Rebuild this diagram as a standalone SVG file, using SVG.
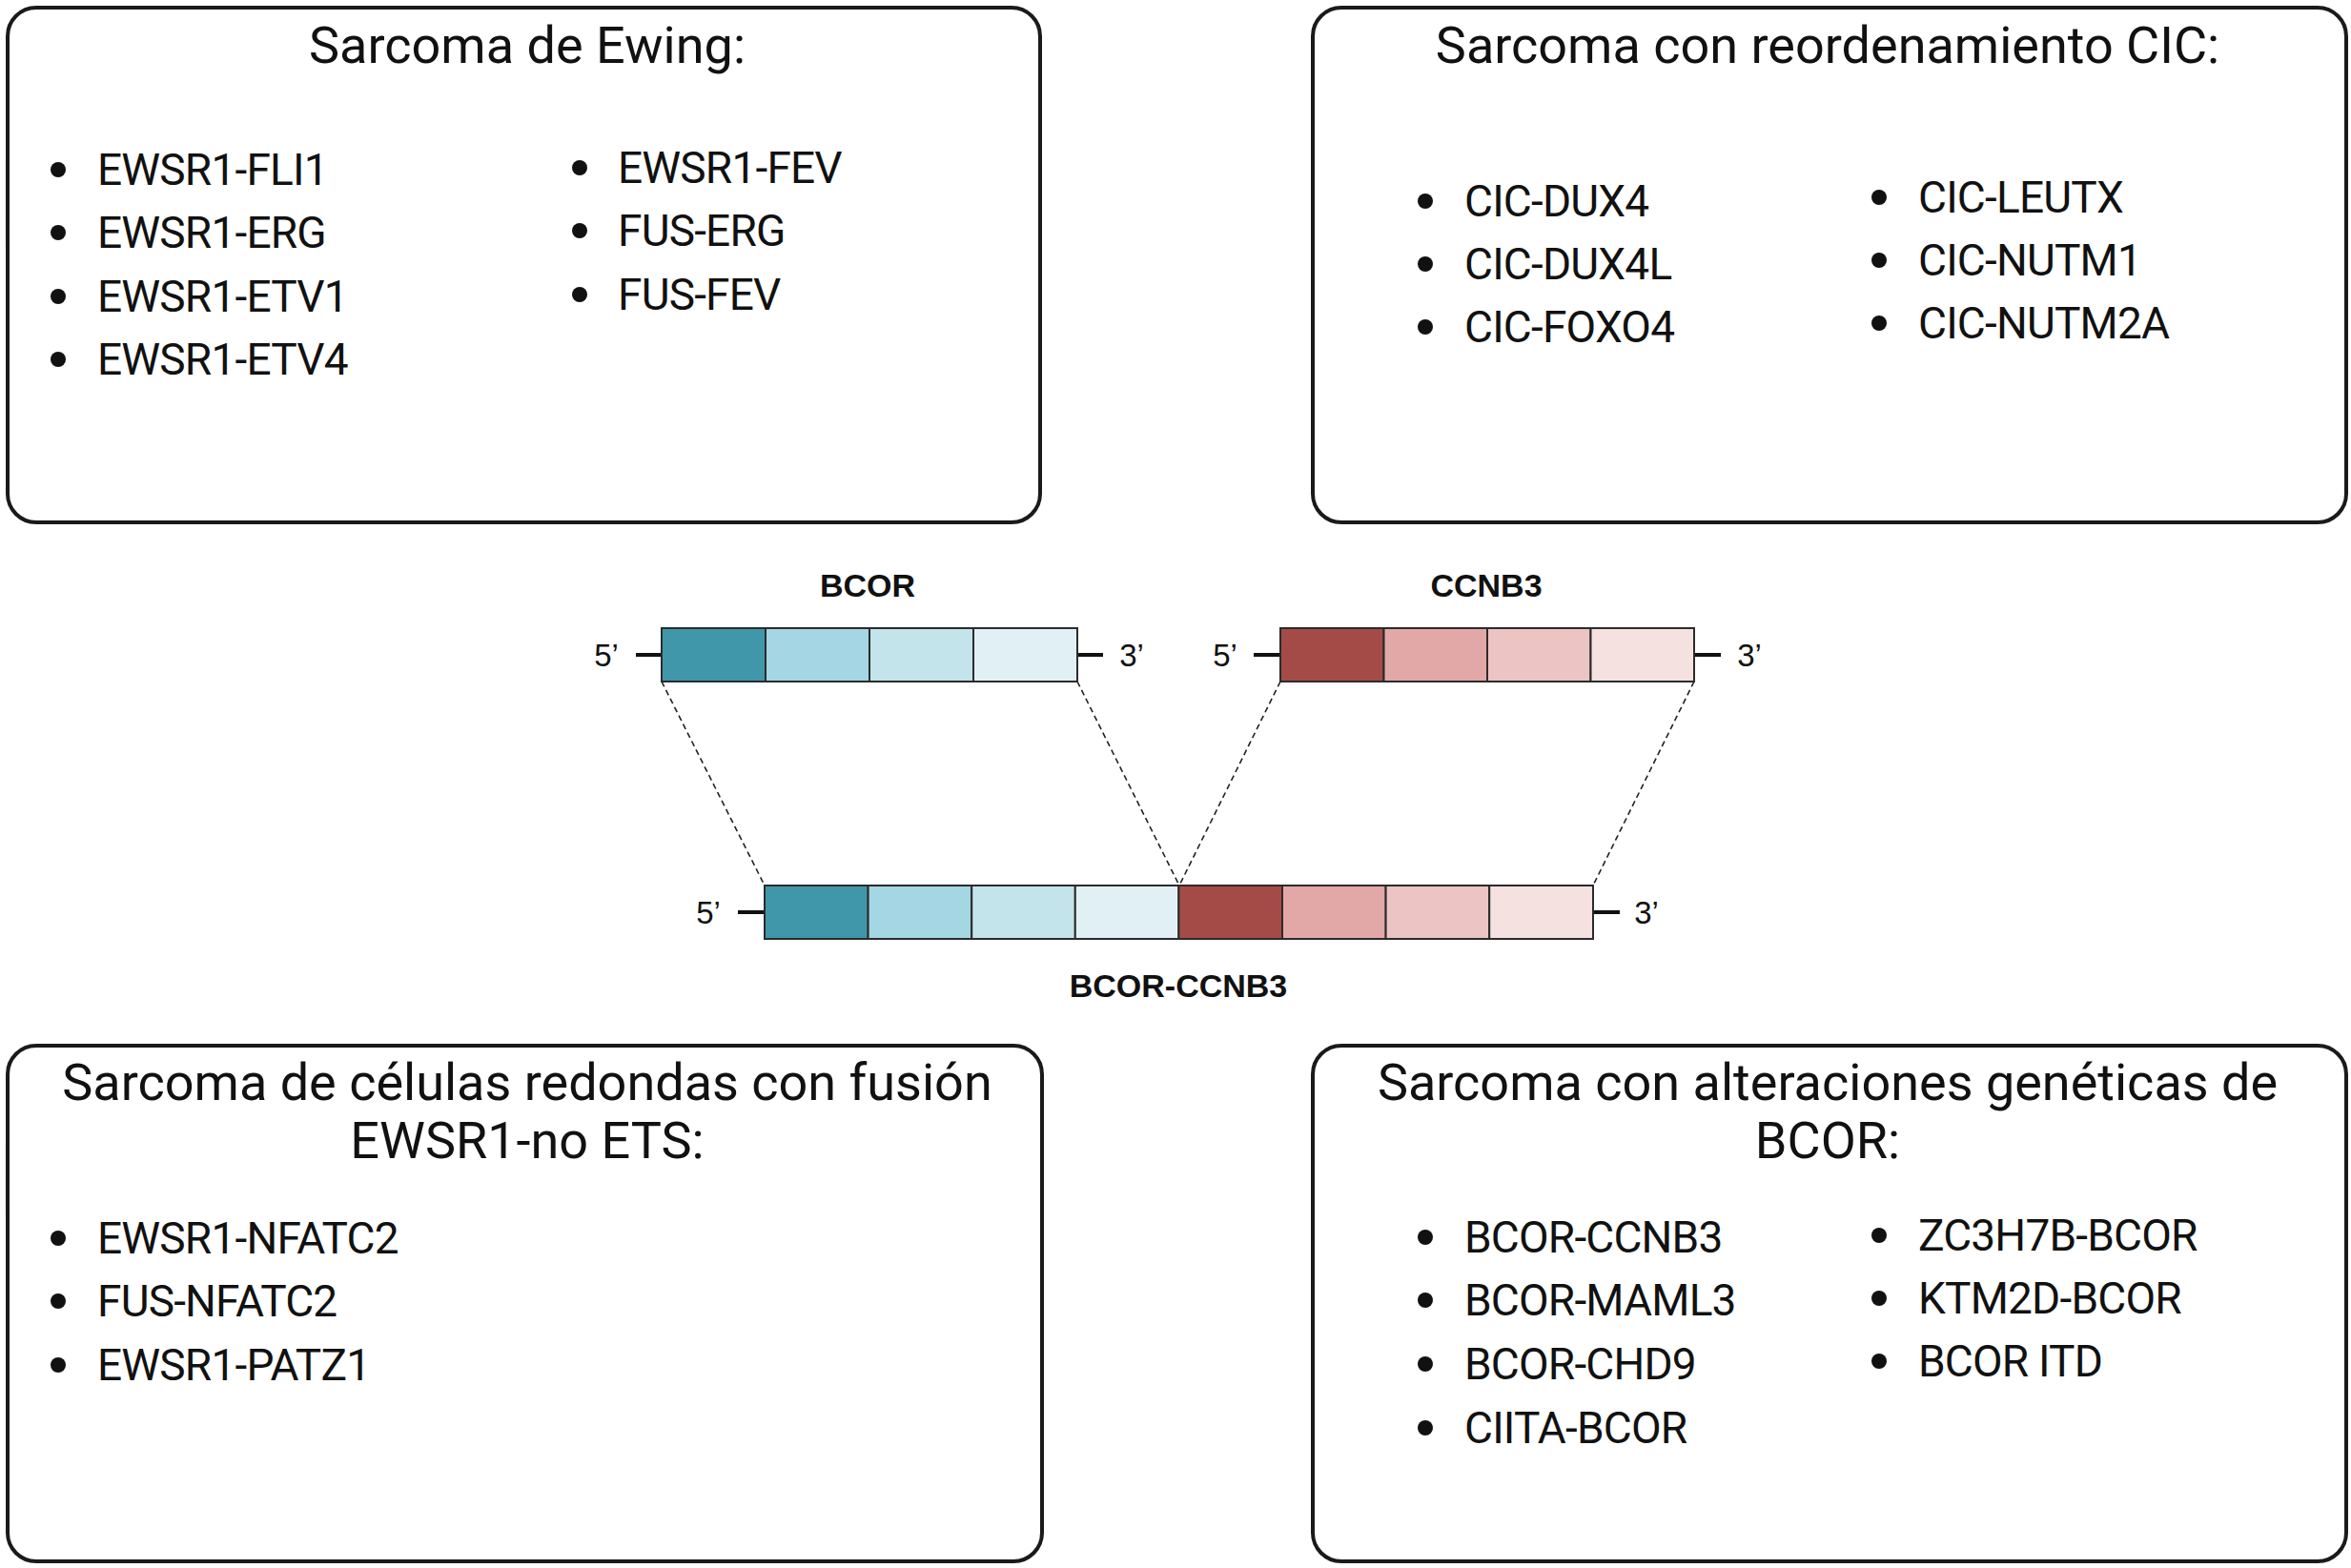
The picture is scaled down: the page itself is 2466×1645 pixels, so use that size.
<svg xmlns="http://www.w3.org/2000/svg" width="2466" height="1645" viewBox="0 0 2466 1645">
<style>
.box{fill:#fff;stroke:#1a1a1a;stroke-width:4}
.title{font-family:Roboto,"Liberation Sans",sans-serif;font-size:54px;fill:#111;text-anchor:middle}
.item{font-family:Roboto,"Liberation Sans",sans-serif;font-size:46px;letter-spacing:-0.8px;fill:#111}
.dot{fill:#111}
.lbl{font-family:"Liberation Sans",Arial,sans-serif;font-size:34px;font-weight:bold;fill:#111;text-anchor:middle}
.end{font-family:"Liberation Sans",Arial,sans-serif;font-size:33px;fill:#111;text-anchor:middle}
.seg{stroke:#2b2b2b;stroke-width:2}
.tail{stroke:#111;stroke-width:4}
.dash{stroke:#222;stroke-width:1.6;stroke-dasharray:6 4;fill:none}
</style>
<rect width="2466" height="1645" fill="#fff"/>

<g id="box-ewing">
<rect class="box" x="8" y="8" width="1083" height="540" rx="30"/>
<text class="title" x="553" y="66">Sarcoma de Ewing:</text>
<circle class="dot" cx="61" cy="178" r="8"/><text class="item" x="102" y="194">EWSR1-FLI1</text>
<circle class="dot" cx="61" cy="244" r="8"/><text class="item" x="102" y="260">EWSR1-ERG</text>
<circle class="dot" cx="61" cy="311" r="8"/><text class="item" x="102" y="327">EWSR1-ETV1</text>
<circle class="dot" cx="61" cy="377" r="8"/><text class="item" x="102" y="393">EWSR1-ETV4</text>
<circle class="dot" cx="608" cy="176" r="8"/><text class="item" x="648" y="192">EWSR1-FEV</text>
<circle class="dot" cx="608" cy="242" r="8"/><text class="item" x="648" y="258">FUS-ERG</text>
<circle class="dot" cx="608" cy="309" r="8"/><text class="item" x="648" y="325">FUS-FEV</text>
</g>

<g id="box-cic">
<rect class="box" x="1377" y="8" width="1084" height="540" rx="30"/>
<text class="title" x="1917" y="66">Sarcoma con reordenamiento CIC:</text>
<circle class="dot" cx="1495" cy="211" r="8"/><text class="item" x="1536" y="227">CIC-DUX4</text>
<circle class="dot" cx="1495" cy="277" r="8"/><text class="item" x="1536" y="293">CIC-DUX4L</text>
<circle class="dot" cx="1495" cy="343" r="8"/><text class="item" x="1536" y="359">CIC-FOXO4</text>
<circle class="dot" cx="1971" cy="207" r="8"/><text class="item" x="2012" y="223">CIC-LEUTX</text>
<circle class="dot" cx="1971" cy="273" r="8"/><text class="item" x="2012" y="289">CIC-NUTM1</text>
<circle class="dot" cx="1971" cy="339" r="8"/><text class="item" x="2012" y="355">CIC-NUTM2A</text>
</g>

<g id="box-ewsr1-noets">
<rect class="box" x="8" y="1097" width="1085" height="541" rx="30"/>
<text class="title" x="553" y="1154">Sarcoma de células redondas con fusión</text>
<text class="title" x="553" y="1215">EWSR1-no ETS:</text>
<circle class="dot" cx="61" cy="1299" r="8"/><text class="item" x="102" y="1315">EWSR1-NFATC2</text>
<circle class="dot" cx="61" cy="1365" r="8"/><text class="item" x="102" y="1381">FUS-NFATC2</text>
<circle class="dot" cx="61" cy="1432" r="8"/><text class="item" x="102" y="1448">EWSR1-PATZ1</text>
</g>

<g id="box-bcor">
<rect class="box" x="1377" y="1097" width="1084" height="541" rx="30"/>
<text class="title" x="1917" y="1154">Sarcoma con alteraciones genéticas de</text>
<text class="title" x="1917" y="1215">BCOR:</text>
<circle class="dot" cx="1495" cy="1298" r="8"/><text class="item" x="1536" y="1314">BCOR-CCNB3</text>
<circle class="dot" cx="1495" cy="1364" r="8"/><text class="item" x="1536" y="1380">BCOR-MAML3</text>
<circle class="dot" cx="1495" cy="1431" r="8"/><text class="item" x="1536" y="1447">BCOR-CHD9</text>
<circle class="dot" cx="1495" cy="1498" r="8"/><text class="item" x="1536" y="1514">CIITA-BCOR</text>
<circle class="dot" cx="1971" cy="1296" r="8"/><text class="item" x="2012" y="1312">ZC3H7B-BCOR</text>
<circle class="dot" cx="1971" cy="1362" r="8"/><text class="item" x="2012" y="1378">KTM2D-BCOR</text>
<circle class="dot" cx="1971" cy="1428" r="8"/><text class="item" x="2012" y="1444">BCOR ITD</text>
</g>

<g id="connectors">
<line class="dash" x1="694" y1="715" x2="802" y2="929"/>
<line class="dash" x1="1130" y1="715" x2="1237" y2="929"/>
<line class="dash" x1="1343" y1="715" x2="1237" y2="929"/>
<line class="dash" x1="1777" y1="715" x2="1671" y2="929"/>
</g>

<g id="gene-bcor">
<text class="lbl" x="910" y="626">BCOR</text>
<line class="tail" x1="667" y1="687" x2="694" y2="687"/>
<line class="tail" x1="1130" y1="687" x2="1157" y2="687"/>
<text class="end" x="636" y="699">5’</text>
<text class="end" x="1187" y="699">3’</text>
<rect class="seg" x="694" y="659" width="109" height="56" fill="#4097AA"/>
<rect class="seg" x="803" y="659" width="109" height="56" fill="#A4D6E3"/>
<rect class="seg" x="912" y="659" width="109" height="56" fill="#C3E4EB"/>
<rect class="seg" x="1021" y="659" width="109" height="56" fill="#E1F0F5"/>
</g>

<g id="gene-ccnb3">
<text class="lbl" x="1559" y="626">CCNB3</text>
<line class="tail" x1="1315" y1="687" x2="1343" y2="687"/>
<line class="tail" x1="1777" y1="687" x2="1805" y2="687"/>
<text class="end" x="1285" y="699">5’</text>
<text class="end" x="1835" y="699">3’</text>
<rect class="seg" x="1343" y="659" width="108.5" height="56" fill="#A54B47"/>
<rect class="seg" x="1451.5" y="659" width="108.5" height="56" fill="#E2A8A7"/>
<rect class="seg" x="1560" y="659" width="108.5" height="56" fill="#ECC4C3"/>
<rect class="seg" x="1668.5" y="659" width="108.5" height="56" fill="#F5E1E0"/>
</g>

<g id="gene-fusion">
<text class="lbl" x="1236" y="1046">BCOR-CCNB3</text>
<line class="tail" x1="774" y1="957" x2="802" y2="957"/>
<line class="tail" x1="1671" y1="957" x2="1699" y2="957"/>
<text class="end" x="743" y="969">5’</text>
<text class="end" x="1727" y="969">3’</text>
<rect class="seg" x="802" y="929" width="108.6" height="56" fill="#4097AA"/>
<rect class="seg" x="910.6" y="929" width="108.6" height="56" fill="#A4D6E3"/>
<rect class="seg" x="1019.2" y="929" width="108.6" height="56" fill="#C3E4EB"/>
<rect class="seg" x="1127.8" y="929" width="108.6" height="56" fill="#E1F0F5"/>
<rect class="seg" x="1236.4" y="929" width="108.6" height="56" fill="#A54B47"/>
<rect class="seg" x="1345" y="929" width="108.6" height="56" fill="#E2A8A7"/>
<rect class="seg" x="1453.6" y="929" width="108.6" height="56" fill="#ECC4C3"/>
<rect class="seg" x="1562.2" y="929" width="108.8" height="56" fill="#F5E1E0"/>
</g>
</svg>
